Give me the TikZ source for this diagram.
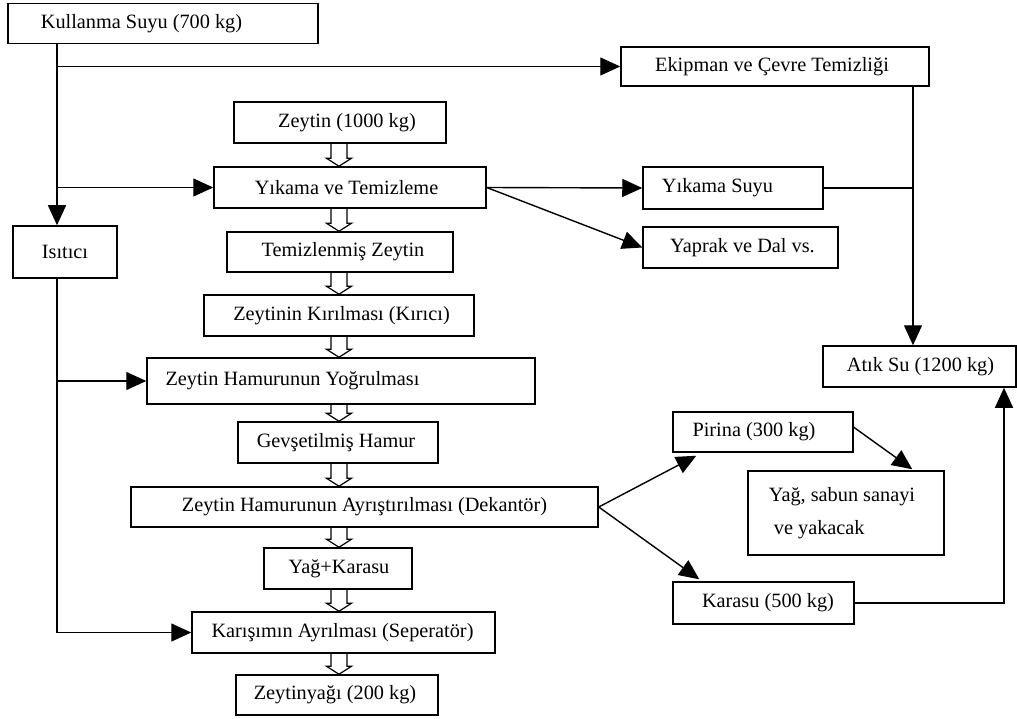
\documentclass[tikz,border=0pt]{standalone}
\usepackage{fontspec}
\setmainfont{Liberation Serif}
\usetikzlibrary{arrows.meta,calc}

% open block arrow drawn down the central column between two stacked boxes
\newcommand\hollowdown[2]{%
  \draw[hollow] let \p1=(#1.south -| midcol), \p2=(#2.north -| midcol) in
    (\x1-8pt,\y1) -- (\x1-8pt,\y2+8pt) -- (\x1-12.5pt,\y2+8pt) -- (\x2,\y2)
    -- (\x1+12.5pt,\y2+8pt) -- (\x1+8pt,\y2+8pt) -- (\x1+8pt,\y1);}

\begin{document}
\begin{tikzpicture}[x=1pt,y=-1pt,
  box/.style={draw, line width=1.5pt, fill=white, inner sep=0pt,
              font=\fontsize{20.3}{24}\selectfont},
  conn/.style={line width=1.4pt},
  arr/.style={conn, -{Triangle[length=20pt,width=18pt]}},
  hollow/.style={draw, line width=1.2pt, line join=miter}]

\fill[white] (0,0) rectangle (1017,719);
\useasboundingbox (0,0) rectangle (1017,719);

% guide columns for the connectors
\coordinate (lx) at (57,0);
\coordinate (rx) at (913,0);
\coordinate (fx) at (1004,0);
\coordinate (midcol) at (339,0);

% process boxes
\node[box, minimum width=310pt, minimum height=40pt] (kul) at (163,23.5) {\hspace*{-43pt}Kullanma Suyu (700 kg)};
\node[box, minimum width=308pt, minimum height=39pt] (eki) at (775,66.5) {\hspace*{-6pt}Ekipman ve Çevre Temizliği};
\node[box, minimum width=212pt, minimum height=41pt] (zey) at (340,122.5) {\hspace*{14pt}Zeytin (1000 kg)};
\node[box, minimum width=272pt, minimum height=41pt] (yik) at (350,187.5) {\hspace*{-7pt}Yıkama ve Temizleme};
\node[box, minimum width=226pt, minimum height=40pt] (tem) at (340,252) {\hspace*{6pt}Temizlenmiş Zeytin};
\node[box, minimum width=270pt, minimum height=41pt] (kir) at (339,315.5) {\hspace*{5pt}Zeytinin Kırılması (Kırıcı)};
\node[box, minimum width=388pt, minimum height=46pt] (ham) at (341,381) {\hspace*{-97pt}Zeytin Hamurunun Yoğrulması};
\node[box, minimum width=200pt, minimum height=41pt] (gev) at (338,442.5) {\hspace*{-4pt}Gevşetilmiş Hamur};
\node[box, minimum width=467pt, minimum height=40pt] (dek) at (364.5,507) {Zeytin Hamurunun Ayrıştırılması (Dekantör)};
\node[box, minimum width=148pt, minimum height=41pt] (yk) at (338,568.5) {\hspace*{2pt}Yağ+Karasu};
\node[box, minimum width=303pt, minimum height=41pt] (kar) at (343.5,632.5) {\hspace*{-2pt}Karışımın Ayrılması (Seperatör)};
\node[box, minimum width=202pt, minimum height=40pt] (zy) at (337,695) {\hspace*{-4pt}Zeytinyağı (200 kg)};
\node[box, minimum width=104pt, minimum height=52pt] (isi) at (65,252) {Isıtıcı};
\node[box, minimum width=180pt, minimum height=42pt] (ysu) at (733,188) {\hspace*{-31pt}Yıkama Suyu};
\node[box, minimum width=195pt, minimum height=41pt] (yap) at (740.5,247.5) {\hspace*{4pt}Yaprak ve Dal vs.};
\node[box, minimum width=193pt, minimum height=41pt] (atik) at (919.5,366.5) {\hspace*{2pt}Atık Su (1200 kg)};
\node[box, minimum width=180pt, minimum height=40pt] (pir) at (763,432) {\hspace*{-18pt}Pirina (300 kg)};
\node[box, minimum width=196pt, minimum height=84pt, align=left,
      font=\fontsize{20.3}{33}\selectfont] (sab) at (846,513)
      {Yağ, sabun sanayi\hspace*{8pt}\\\hspace*{5pt}ve yakacak};
\node[box, minimum width=181pt, minimum height=42pt] (kr) at (763.5,603) {\hspace*{9pt}Karasu (500 kg)};

% main line of open block arrows
\hollowdown{zey}{yik}
\hollowdown{yik}{tem}
\hollowdown{tem}{kir}
\hollowdown{kir}{ham}
\hollowdown{ham}{gev}
\hollowdown{gev}{dek}
\hollowdown{dek}{yk}
\hollowdown{yk}{kar}
\hollowdown{kar}{zy}

% water supply and heater line
\draw[arr] (kul.south -| lx) -- (isi.north -| lx);
\draw[arr] (lx |- eki.west) -- (eki.west);
\draw[arr] (lx |- yik.west) -- (yik.west);
\draw[arr] (isi.south -| lx) -- (lx |- kar.west) -- (kar.west);
\draw[arr] (lx |- ham.west) -- (ham.west);

% washing outputs and waste water
\draw[arr] (yik.east) -- (ysu.west);
\draw[arr] (yik.east) -- (yap.west);
\draw[conn] (ysu.east) -- (ysu.east -| rx);
\draw[arr] (eki.south -| rx) -- (atik.north -| rx);

% decanter outputs
\draw[arr] (dek.east) -- ($(pir.south west)+(24,3)$);
\draw[arr] (dek.east) -- ($(kr.north west)+(27,-2)$);
\draw[arr] ($(pir.north east)+(0,16)$) -- ($(sab.north west)+(165,-1)$);
\draw[arr] (kr.east) -- (kr.east -| fx) -- (atik.south -| fx);

\end{tikzpicture}
\end{document}
